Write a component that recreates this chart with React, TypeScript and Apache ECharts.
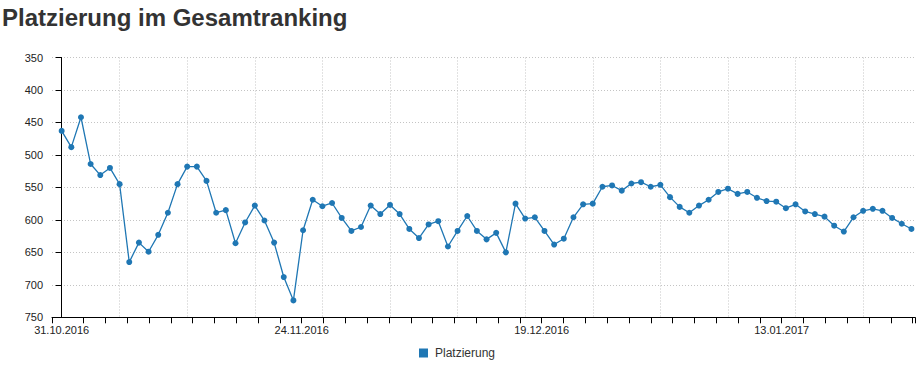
import React, { useEffect, useRef } from "react";
import * as echarts from "echarts";

const FONT = '"Liberation Sans", Arial, Helvetica, sans-serif';

const chartTitle = "Platzierung im Gesamtranking";
const seriesName = "Platzierung";
const startDay = Date.UTC(2016, 9, 31); // 31.10.2016, one point per day

// Daily ranking (lower is better)
const rankings = [
  463, 488, 442, 514, 531, 520, 545, 665, 635, 649,
  623, 589, 545, 518, 518, 540, 589, 585, 636, 604,
  578, 601, 635, 688, 724, 616, 569, 579, 574, 597,
  617, 611, 578, 591, 577, 591, 614, 628, 607, 602,
  641, 617, 594, 617, 630, 620, 650, 575, 598, 596,
  617, 638, 629, 596, 576, 575, 549, 547, 555, 544,
  542, 549, 546, 565, 580, 589, 578, 569, 557, 552,
  560, 557, 566, 571, 572, 582, 576, 587, 591, 595,
  609, 618, 596, 586, 583, 586, 597, 606, 614,
];

const pad = (n: number) => (n < 10 ? "0" + n : "" + n);
const fmtDate = (ms: number) => {
  const d = new Date(ms);
  return pad(d.getUTCDate()) + "." + pad(d.getUTCMonth() + 1) + "." + d.getUTCFullYear();
};
// categories: the date of each point
const dates = rankings.map((_, i) => fmtDate(startDay + i * 86400000));

const xTickLabels = ["31.10.2016", "24.11.2016", "19.12.2016", "13.01.2017"];
const yMin = 350;
const yMax = 750;
const yStep = 50;

// axis layout (in day units)
const DAY_MIN = -1;
const DAY_MAX = 88.37;
const TICK_STEP = 2.2596;
const LABEL_EVERY = 11;

export default function App() {
  const ref = useRef<HTMLDivElement>(null);

  useEffect(() => {
    if (!ref.current) return;
    const chart = echarts.init(ref.current, undefined, { renderer: "svg" });

    const tickValues: number[] = [DAY_MIN];
    for (let k = 1; k * TICK_STEP <= DAY_MAX; k++) tickValues.push(k * TICK_STEP);
    tickValues.push(DAY_MAX);
    const labelValues = xTickLabels.map((_, i) => i * LABEL_EVERY * TICK_STEP);

    const gridLine = {
      show: true,
      lineStyle: { color: "#c4c4c4", width: 1, type: [1, 2] as any },
    };

    chart.setOption({
      animation: false,
      backgroundColor: "#ffffff",
      title: {
        text: chartTitle,
        left: 2,
        top: 5,
        padding: 0,
        textStyle: {
          fontFamily: FONT,
          fontSize: 24,
          fontWeight: "bold",
          color: "#333333",
        },
      },
      legend: {
        data: [seriesName],
        left: 419,
        top: 347,
        padding: 0,
        icon: "rect",
        itemWidth: 9,
        itemHeight: 9,
        itemGap: 10,
        textStyle: { fontFamily: FONT, fontSize: 12, color: "#333333", padding: [0, 0, 0, 2] },
      },
      grid: { left: 52, right: 9, top: 57.5, bottom: 50.7, containLabel: false },
      xAxis: [
        {
          type: "value",
          position: "bottom",
          min: DAY_MIN,
          max: DAY_MAX,
          interval: 7,
          axisLine: { show: true, lineStyle: { color: "#000", width: 1 } },
          axisTick: { show: false },
          axisLabel: { show: false },
          splitLine: { ...gridLine, showMinLine: false, showMaxLine: false },
        },
        {
          type: "value",
          position: "bottom",
          offset: 0,
          min: DAY_MIN,
          max: DAY_MAX,
          axisLine: { show: false },
          axisTick: {
            show: true,
            length: 6,
            customValues: tickValues,
            lineStyle: { color: "#000", width: 1 },
          },
          axisLabel: {
            show: true,
            customValues: labelValues,
            margin: 7,
            fontFamily: FONT,
            fontSize: 11,
            color: "#222",
            formatter: (v: number) =>
              xTickLabels[Math.round(v / (LABEL_EVERY * TICK_STEP))] ?? "",
          },
          splitLine: { show: false },
        },
      ],
      yAxis: {
        type: "value",
        inverse: true,
        min: yMin,
        max: yMax,
        interval: yStep,
        axisLine: { show: true, lineStyle: { color: "#000", width: 1 } },
        axisTick: { show: true, length: 6, lineStyle: { color: "#000", width: 1 } },
        axisLabel: {
          margin: 9,
          fontFamily: FONT,
          fontSize: 11,
          color: "#222",
        },
        splitLine: { ...gridLine, showMaxLine: false },
      },
      series: [
        {
          name: seriesName,
          type: "line",
          xAxisIndex: 0,
          data: rankings.map((v, i) => ({ value: [i, v], name: dates[i] })),
          symbol: "circle",
          symbolSize: 6,
          showSymbol: true,
          itemStyle: { color: "#1f77b4" },
          lineStyle: { color: "#1f77b4", width: 1.3 },
        },
      ],
    });

    return () => chart.dispose();
  }, []);

  return (
    <div
      ref={ref}
      style={{ position: "fixed", left: 0, top: 0, width: 924, height: 368 }}
    />
  );
}
